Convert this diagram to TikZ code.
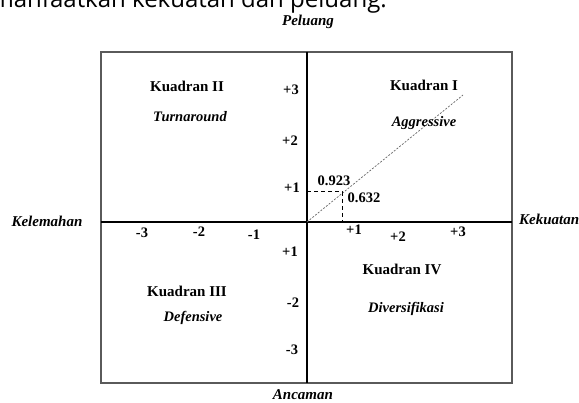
\documentclass[tikz,border=0pt]{standalone}
\usepackage{fontspec}
\setmainfont{Liberation Serif}
\newfontfamily\pagefont{Open Sans}
\usepackage{xcolor}
\usepackage{tikz}

\definecolor{framegray}{RGB}{90,90,90}

\tikzset{
  quad/.style={font=\fontsize{15}{17}\selectfont\bfseries, inner sep=0pt},
  strat/.style={font=\fontsize{14.5}{17}\selectfont\bfseries\itshape, inner sep=0pt},
  tick/.style={font=\fontsize{14.5}{17}\selectfont\bfseries, inner sep=0pt},
  axlabel/.style={font=\fontsize{15}{17}\selectfont\bfseries\itshape, inner sep=0pt}
}

\begin{document}
\begin{tikzpicture}[x=1pt, y=-1pt]
 \useasboundingbox (0,0) rectangle (579,403);
 \clip (0,0) rectangle (579,403);

 % cut-off line of the page above the figure
 \node[font=\pagefont\fontsize{24}{27}\selectfont, anchor=base east, inner sep=0pt] (pagetext) at (387,8) {memanfaatkan kekuatan dan peluang.};

 \coordinate (nw) at (101,52);
 \coordinate (se) at (512,383);
 \coordinate (O) at (307,222);
 \coordinate (top) at (307,52);
 \coordinate (bottom) at (307,383);
 \coordinate (left) at (101,222);
 \coordinate (right) at (512,222);

 \draw[framegray, line width=1.1pt] (nw) rectangle (se);
 \draw[line width=1.3pt] (left) -- (right);
 \draw[line width=1.3pt] (top) -- (bottom);

 % position line
 \coordinate (diag) at (463,95);
 \coordinate (pos) at (342,192);
 \coordinate (posx) at (342,222);
 \coordinate (posy) at (307,192);
 \draw[black!60, line width=0.7pt, dash pattern=on 2pt off 1.5pt] (O) -- (diag);
 \draw[line width=1pt, dash pattern=on 4pt off 3pt] (posy) -- (pos) -- (posx);
 \node[tick] (xval) at (334,181) {0.923};
 \node[tick] (yval) at (364,198) {0.632};

 % axis names
 \node[axlabel] (peluang) at (308,22) {Peluang};
 \node[axlabel] (ancaman) at (303,395) {Ancaman};
 \node[axlabel] (kelemahan) at (47,221) {Kelemahan};
 \node[axlabel, anchor=west] (kekuatan) at (519,219) {Kekuatan};

 % quadrants
 \node[quad] (q1) at (424,85) {Kuadran I};
 \node[strat] (s1) at (424,123) {Aggressive};
 \node[quad] (q2) at (187,86) {Kuadran II};
 \node[strat] (s2) at (190,117) {Turnaround};
 \node[quad] (q3) at (187,291) {Kuadran III};
 \node[strat] (s3) at (193,318) {Defensive};
 \node[quad] (q4) at (402,269) {Kuadran IV};
 \node[strat] (s4) at (406,309) {Diversifikasi};

 % scale numbers
 \foreach \x/\y/\xtext in {142/233/-3, 199/232/-2, 254/235/-1, 354/230/+1, 398/237/+2, 458/232/+3}
   \node[tick] at (\x,\y) {\xtext};
 \foreach \x/\y/\ytext in {291/90/+3, 290/141/+2, 292/188/+1, 290/252/+1, 293/303/-2, 292/350/-3}
   \node[tick] at (\x,\y) {\ytext};

\end{tikzpicture}
\end{document}
